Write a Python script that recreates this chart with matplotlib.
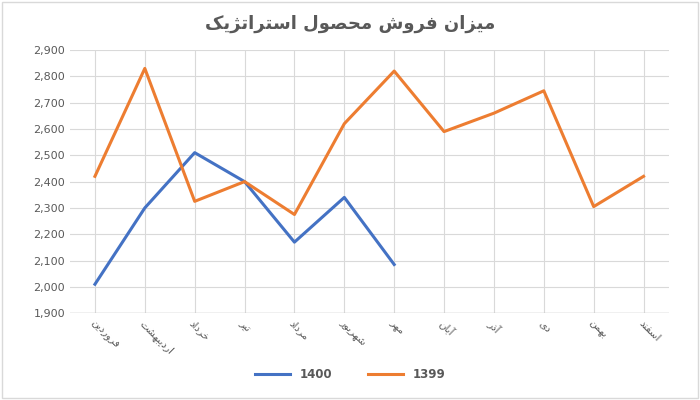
import matplotlib
matplotlib.use("Agg")
import matplotlib.pyplot as plt

FORMS = {
 'ا':('\uFE8D','\uFE8E',None,None),'آ':('\uFE81','\uFE82',None,None),
 'ب':('\uFE8F','\uFE90','\uFE91','\uFE92'),'ت':('\uFE95','\uFE96','\uFE97','\uFE98'),
 'ج':('\uFE9D','\uFE9E','\uFE9F','\uFEA0'),'ح':('\uFEA1','\uFEA2','\uFEA3','\uFEA4'),
 'خ':('\uFEA5','\uFEA6','\uFEA7','\uFEA8'),'د':('\uFEA9','\uFEAA',None,None),
 'ذ':('\uFEAB','\uFEAC',None,None),'ر':('\uFEAD','\uFEAE',None,None),
 'ز':('\uFEAF','\uFEB0',None,None),'ژ':('\uFB8A','\uFB8B',None,None),
 'س':('\uFEB1','\uFEB2','\uFEB3','\uFEB4'),'ش':('\uFEB5','\uFEB6','\uFEB7','\uFEB8'),
 'ص':('\uFEB9','\uFEBA','\uFEBB','\uFEBC'),'ف':('\uFED1','\uFED2','\uFED3','\uFED4'),
 'ک':('\uFB8E','\uFB8F','\uFB90','\uFB91'),'ل':('\uFEDD','\uFEDE','\uFEDF','\uFEE0'),
 'م':('\uFEE1','\uFEE2','\uFEE3','\uFEE4'),'ن':('\uFEE5','\uFEE6','\uFEE7','\uFEE8'),
 'ه':('\uFEE9','\uFEEA','\uFEEB','\uFEEC'),'و':('\uFEED','\uFEEE',None,None),
 'ی':('\uFBFC','\uFBFD','\uFBFE','\uFBFF'),
}
def shape(s):
    out = []
    for i, c in enumerate(s):
        if c not in FORMS:
            out.append(c); continue
        f = FORMS[c]
        p = s[i-1] if i > 0 else None
        n = s[i+1] if i+1 < len(s) else None
        jp = p in FORMS and FORMS[p][2] is not None
        jn = n in FORMS and f[2] is not None
        if jp and jn: out.append(f[3])
        elif jp: out.append(f[1])
        elif jn: out.append(f[2])
        else: out.append(f[0])
    return ''.join(out)[::-1]

months = ['فروردین','اردیبهشت','خرداد','تیر','مرداد','شهریور','مهر','آبان','آذر','دی','بهمن','اسفند']
title = 'میزان فروش محصول استراتژیک'
s1400 = [2010, 2300, 2510, 2400, 2170, 2340, 2085]
s1399 = [2420, 2830, 2325, 2400, 2275, 2620, 2820, 2590, 2660, 2745, 2305, 2420]

fig = plt.figure(figsize=(7, 4), dpi=100)
ax = fig.add_axes([0.1, 0.217, 0.855, 0.658])
x = list(range(len(months)))
ax.plot(x[:len(s1400)], s1400, color='#4472C4', lw=2.2, label='1400')
ax.plot(x, s1399, color='#ED7D31', lw=2.2, label='1399')
ax.set_ylim(1900, 2900)
ax.set_yticks(range(1900, 2901, 100))
ax.set_yticklabels([f'{v:,}' for v in range(1900, 2901, 100)], fontsize=8, color='#595959')
ax.set_xlim(-0.5, 11.5)
ax.set_xticks(x)
ax.set_xticklabels([shape(m) for m in months], rotation=-45, ha='left', va='top',
                   rotation_mode='anchor', fontsize=7.5, color='#595959')
ax.grid(True, color='#D9D9D9', lw=0.8)
ax.tick_params(length=0)
for s in ax.spines.values():
    s.set_visible(False)
ax.axhline(1900, color='#BFBFBF', lw=1)
fig.text(0.5, 0.94, shape(title), ha='center', va='center', fontsize=13,
         fontweight='bold', color='#595959')
leg = fig.legend(loc='lower center', ncol=2, frameon=False, fontsize=8.5,
                 bbox_to_anchor=(0.5, 0.02), handlelength=3, columnspacing=3)
for t in leg.get_texts():
    t.set_color('#595959'); t.set_fontweight('bold')
fig.patches.append(plt.Rectangle((0.003, 0.005), 0.994, 0.99, transform=fig.transFigure,
                                 fill=False, ec='#D9D9D9', lw=1))
fig.savefig('out.png', dpi=100)
